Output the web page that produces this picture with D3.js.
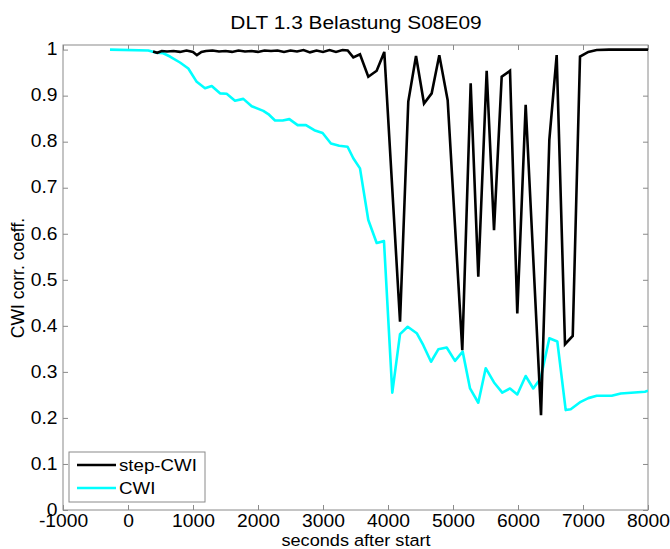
<!DOCTYPE html>
<html>
<head>
<meta charset="utf-8">
<script src="https://cdn.jsdelivr.net/npm/d3@7"></script>
<style>
  html, body { margin: 0; padding: 0; background: #fff; }
  svg { display: block; font-family: "Liberation Sans", Arial, Helvetica, sans-serif; }
</style>
</head>
<body>
<svg id="chart" width="670" height="549"></svg>
<script>
// ---- data ----
const stepCwiT = [385, 450, 520, 600, 700, 800, 900, 1000, 1060, 1130, 1200, 1300, 1400, 1500, 1600, 1700, 1800, 1900, 2000, 2100, 2200, 2300, 2400, 2500, 2600, 2700, 2800, 2900, 3000, 3100, 3200, 3300, 3380, 3466, 3569, 3697, 3826, 3943, 4185, 4312, 4431, 4554, 4672, 4789, 4918, 5143, 5272, 5389, 5518, 5631, 5749, 5877, 5989, 6118, 6354, 6482, 6595, 6723, 6842, 6954, 7082, 7211, 7400, 7700, 8000];
const stepCwiV = [0.996, 0.993, 0.997, 0.996, 0.997, 0.995, 0.998, 0.995, 0.988, 0.995, 0.997, 0.998, 0.996, 0.997, 0.995, 0.998, 0.996, 0.997, 0.995, 0.998, 0.997, 0.998, 0.995, 0.998, 0.996, 0.999, 0.994, 0.998, 0.995, 0.999, 0.995, 0.999, 0.998, 0.983, 0.990, 0.941, 0.954, 0.995, 0.409, 0.887, 0.986, 0.883, 0.905, 0.988, 0.890, 0.347, 0.927, 0.507, 0.954, 0.608, 0.941, 0.954, 0.427, 0.880, 0.206, 0.804, 0.988, 0.360, 0.378, 0.985, 0.995, 0.999, 1.000, 1.000, 1.000];

const cwiT = [-277, 312, 441, 543, 646, 800, 928, 1057, 1185, 1288, 1415, 1518, 1646, 1774, 1903, 2082, 2158, 2262, 2380, 2482, 2610, 2738, 2866, 2994, 3122, 3250, 3378, 3466, 3569, 3697, 3826, 3938, 4066, 4185, 4303, 4442, 4543, 4662, 4774, 4903, 5031, 5149, 5262, 5389, 5503, 5631, 5758, 5877, 5989, 6118, 6235, 6349, 6482, 6605, 6734, 6811, 6965, 7082, 7211, 7442, 7580, 7954, 8000];
const cwiV = [1.000, 0.998, 0.993, 0.992, 0.985, 0.972, 0.959, 0.930, 0.916, 0.921, 0.905, 0.904, 0.889, 0.893, 0.877, 0.867, 0.860, 0.846, 0.846, 0.849, 0.836, 0.836, 0.825, 0.819, 0.796, 0.791, 0.789, 0.764, 0.742, 0.630, 0.580, 0.584, 0.255, 0.382, 0.398, 0.384, 0.358, 0.322, 0.349, 0.353, 0.324, 0.344, 0.264, 0.233, 0.308, 0.277, 0.255, 0.264, 0.251, 0.291, 0.264, 0.286, 0.373, 0.366, 0.217, 0.219, 0.235, 0.243, 0.248, 0.248, 0.253, 0.257, 0.259];

const xTicks = [-1000, 0, 1000, 2000, 3000, 4000, 5000, 6000, 7000, 8000];
const xTickLabels = ["-1000", "0", "1000", "2000", "3000", "4000", "5000", "6000", "7000", "8000"];
const yTicks = [0, 0.1, 0.2, 0.3, 0.4, 0.5, 0.6, 0.7, 0.8, 0.9, 1];
const yTickLabels = ["0", "0.1", "0.2", "0.3", "0.4", "0.5", "0.6", "0.7", "0.8", "0.9", "1"];
const seriesNames = ["step-CWI", "CWI"];
const seriesColors = ["#000000", "#00ffff"];
const titleText = "DLT 1.3 Belastung S08E09";
const xLabelText = "seconds after start";
const yLabelText = "CWI corr. coeff.";

// ---- layout ----
const L = 63, R = 648, T = 45, B = 510;
const axisColor = "#8a8a8a";
const stretch = "scale(1.1,1)";

const svg = d3.select("#chart");
const x = d3.scaleLinear().domain([-1000, 8000]).range([L, R]);
const y = d3.scaleLinear().domain([0, 1.01]).range([B, T]);

svg.append("rect").attr("x", L).attr("y", T).attr("width", R - L).attr("height", B - T)
  .attr("fill", "#fff").attr("stroke", "none");

function styleAxis(g, withText) {
  g.select(".domain").remove();
  g.selectAll(".tick line").attr("stroke", axisColor).attr("stroke-width", 1);
  if (withText) {
    g.selectAll(".tick text").attr("fill", "#000").attr("font-size", 17.5).attr("transform", stretch);
  } else {
    g.selectAll(".tick text").remove();
  }
}

// bottom axis
const gB = svg.append("g").attr("transform", `translate(0,${B})`)
  .call(d3.axisBottom(x).tickValues(xTicks).tickFormat((d, i) => xTickLabels[i])
    .tickSizeInner(-5).tickSizeOuter(0).tickPadding(5));
styleAxis(gB, true);
gB.selectAll(".tick text").attr("dy", "0.71em");
// top axis
const gT = svg.append("g").attr("transform", `translate(0,${T})`)
  .call(d3.axisTop(x).tickValues(xTicks).tickSizeInner(-5).tickSizeOuter(0));
styleAxis(gT, false);
// left axis
const gL = svg.append("g").attr("transform", `translate(${L},0)`)
  .call(d3.axisLeft(y).tickValues(yTicks).tickFormat((d, i) => yTickLabels[i])
    .tickSizeInner(-5).tickSizeOuter(0).tickPadding(5));
styleAxis(gL, true);
gL.selectAll(".tick text").attr("dy", "0.3em");
// right axis
const gR = svg.append("g").attr("transform", `translate(${R},0)`)
  .call(d3.axisRight(y).tickValues(yTicks).tickSizeInner(-5).tickSizeOuter(0));
styleAxis(gR, false);

// box
svg.append("rect").attr("x", L).attr("y", T).attr("width", R - L).attr("height", B - T)
  .attr("fill", "none").attr("stroke", axisColor).attr("stroke-width", 1);

// lines
svg.append("clipPath").attr("id", "clip").append("rect")
  .attr("x", L).attr("y", T - 3).attr("width", R - L).attr("height", B - T + 3);
const line = d3.line().x(d => x(d[0])).y(d => y(d[1]));
const stepData = stepCwiT.map((t, i) => [t, stepCwiV[i]]);
const cwiData = cwiT.map((t, i) => [t, cwiV[i]]);
svg.append("path").datum(cwiData).attr("d", line).attr("fill", "none")
  .attr("stroke", seriesColors[1]).attr("stroke-width", 2.6).attr("stroke-linejoin", "round")
  .attr("clip-path", "url(#clip)");
svg.append("path").datum(stepData).attr("d", line).attr("fill", "none")
  .attr("stroke", seriesColors[0]).attr("stroke-width", 2.6).attr("stroke-linejoin", "miter")
  .attr("clip-path", "url(#clip)");

// title
svg.append("text").attr("transform", `translate(356,29) ${stretch}`)
  .attr("text-anchor", "middle").attr("font-size", 19).attr("fill", "#000").text(titleText);
// x label
svg.append("text").attr("transform", `translate(356,546) ${stretch}`)
  .attr("text-anchor", "middle").attr("font-size", 16.5).attr("fill", "#000").text(xLabelText);
// y label
svg.append("text").attr("transform", `translate(24,278) rotate(-90)`)
  .attr("text-anchor", "middle").attr("font-size", 17.5).attr("fill", "#000").text(yLabelText);

// legend
const lg = svg.append("g");
lg.append("rect").attr("x", 69).attr("y", 452).attr("width", 136).attr("height", 50)
  .attr("fill", "#fff").attr("stroke", axisColor).attr("stroke-width", 1);
seriesNames.forEach((name, i) => {
  const yy = 465 + i * 23;
  lg.append("line").attr("x1", 77).attr("x2", 116).attr("y1", yy).attr("y2", yy)
    .attr("stroke", seriesColors[i]).attr("stroke-width", 2.6);
  lg.append("text").attr("transform", `translate(119,${yy + 6}) ${stretch}`)
    .attr("font-size", 17).attr("fill", "#000").text(name);
});
</script>
</body>
</html>
